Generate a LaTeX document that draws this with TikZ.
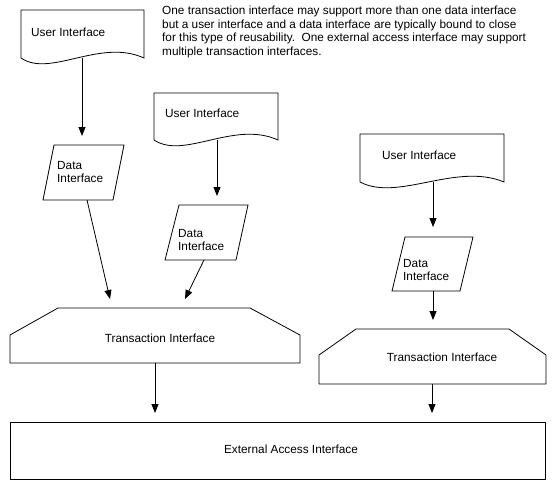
\documentclass[tikz,border=0pt]{standalone}
\usepackage{fontspec}
\setmainfont{Liberation Sans}
\usetikzlibrary{arrows.meta}
\begin{document}
\begin{tikzpicture}[x=1pt,y=-1pt,
  shapeline/.style={draw=black,line width=0.8pt,line join=miter},
  lbl/.style={inner sep=0pt,font=\fontsize{11.8}{13.6}\selectfont,align=left},
  conn/.style={draw=black,line width=0.8pt,-{Triangle[width=7pt,length=9pt]}}]
\useasboundingbox[fill=white] (0,0) rectangle (556,487);
% annotation
\node[lbl,anchor=north west] (note) at (162,6) {One transaction interface may support more than one data interface\\but a user interface and a data interface are typically bound to close\\for this type of reusability.\ \ One external access interface may support\\multiple transaction interfaces.};
% documents (User Interface)
\draw[shapeline] (21,58) -- (21,10) -- (144,10) -- (144,58) .. controls (100,38) and (50,78) .. (21,58);
\node[lbl,anchor=west] (ui1) at (31,32) {User Interface};
\draw[shapeline] (154,140) -- (154,93) -- (278,93) -- (278,140) .. controls (234,120) and (184,160) .. (154,140);
\node[lbl,anchor=west] (ui2) at (165,113) {User Interface};
\draw[shapeline] (360,182) -- (360,134) -- (504,134) -- (504,182) .. controls (456,162) and (398,202) .. (360,182);
\node[lbl,anchor=west] (ui3) at (382,155) {User Interface};
% data interfaces
\draw[shapeline] (54,145) -- (124,145) -- (113,200) -- (43,200) -- cycle;
\node[lbl,anchor=west] (di1) at (57,172) {Data\\Interface};
\draw[shapeline] (179,205) -- (248,205) -- (236,260) -- (165,260) -- cycle;
\node[lbl,anchor=west] (di2) at (178,240) {Data\\Interface};
\draw[shapeline] (405,237) -- (473,237) -- (460,291) -- (392,291) -- cycle;
\node[lbl,anchor=west] (di3) at (403,270) {Data\\Interface};
% transaction interfaces
\draw[shapeline] (10,363) -- (10,335) -- (58,308) -- (250,308) -- (300,335) -- (300,363) -- cycle;
\node[lbl] (ti1) at (160,338) {Transaction Interface};
\draw[shapeline] (319,384) -- (319,355) -- (356,329) -- (509,329) -- (546,355) -- (546,384) -- cycle;
\node[lbl] (ti2) at (442,357) {Transaction Interface};
% external access interface
\draw[shapeline] (10,422) rectangle (545,479);
\node[lbl] (ext) at (291,449) {External Access Interface};
% connector end points
\coordinate (d1s) at (82,58);   \coordinate (d1e) at (82,136);
\coordinate (d2s) at (217,140); \coordinate (d2e) at (217,196);
\coordinate (d3s) at (433,182); \coordinate (d3e) at (433,227);
\coordinate (a1s) at (87,200);  \coordinate (a1e) at (110,299);
\coordinate (a2s) at (204,260); \coordinate (a2e) at (185,299);
\coordinate (a3s) at (433,291); \coordinate (a3e) at (433,320);
\coordinate (t1s) at (155,363); \coordinate (t1e) at (155,413);
\coordinate (t2s) at (432,384); \coordinate (t2e) at (432,413);
\draw[conn] (d1s) -- (d1e);
\draw[conn] (d2s) -- (d2e);
\draw[conn] (d3s) -- (d3e);
\draw[conn] (a1s) -- (a1e);
\draw[conn] (a2s) -- (a2e);
\draw[conn] (a3s) -- (a3e);
\draw[conn] (t1s) -- (t1e);
\draw[conn] (t2s) -- (t2e);
\end{tikzpicture}
\end{document}
